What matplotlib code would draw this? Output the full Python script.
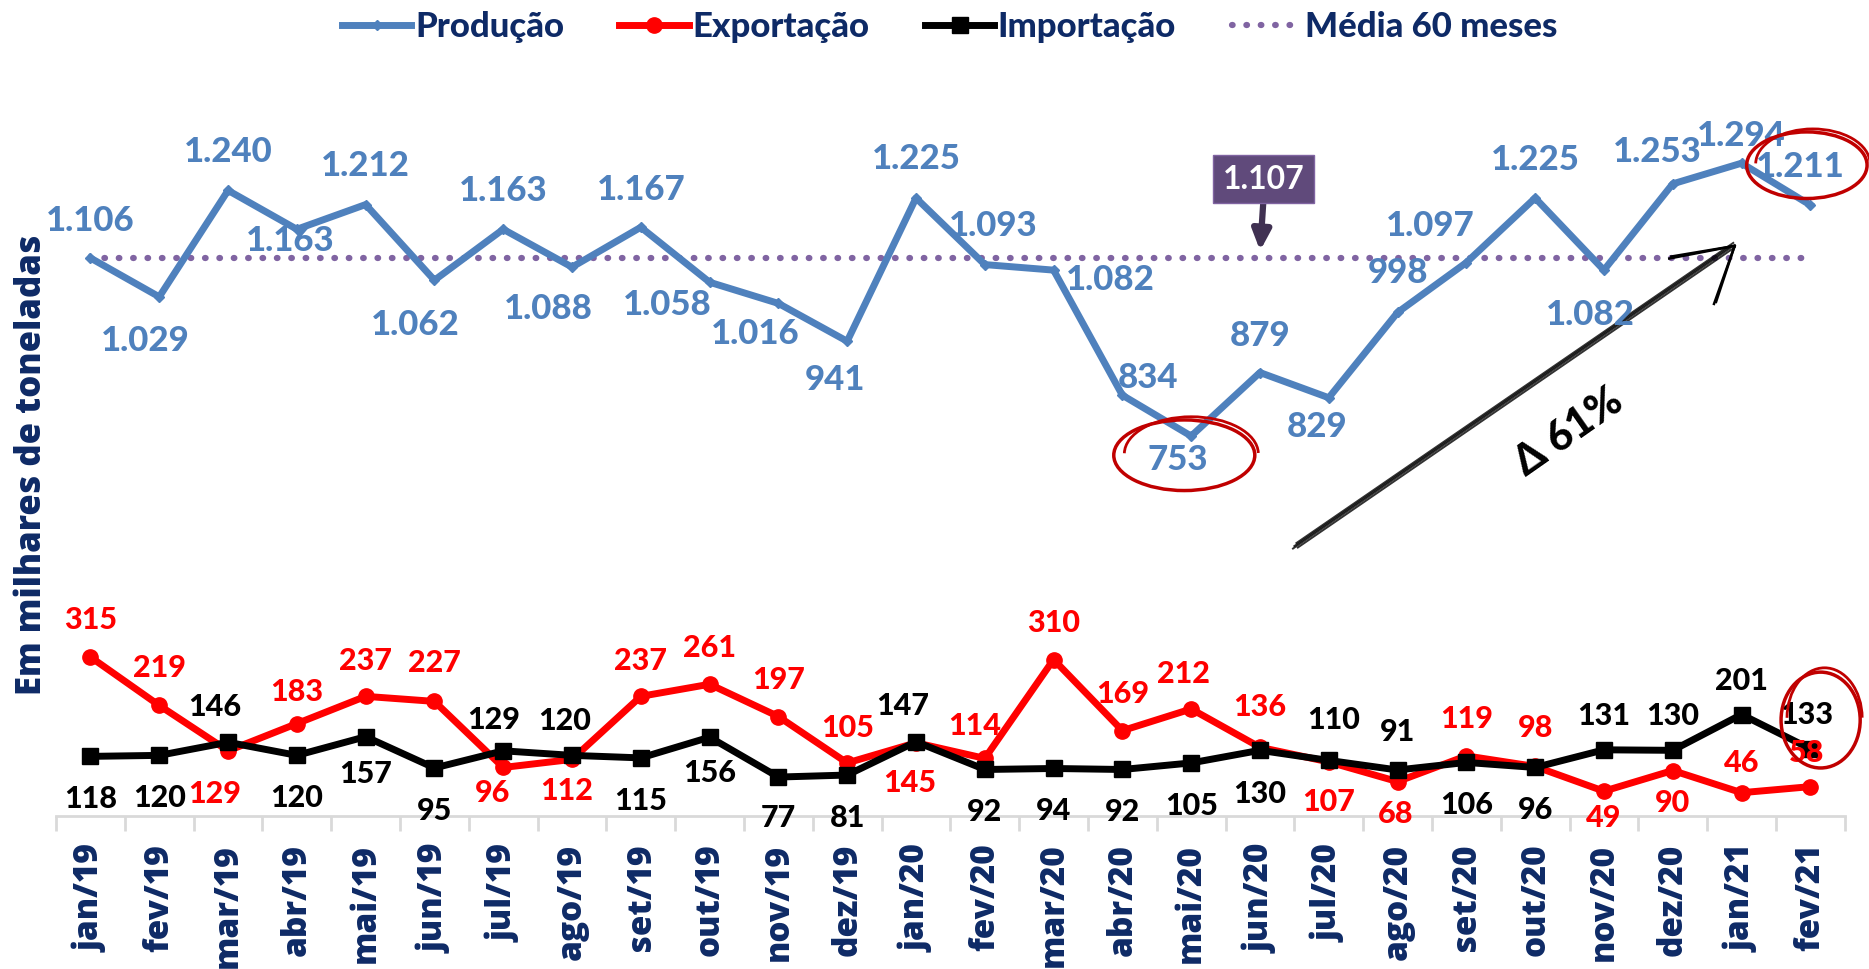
import numpy as np
import matplotlib
matplotlib.use("Agg")
import matplotlib.pyplot as plt
from matplotlib.lines import Line2D
from matplotlib.patches import Ellipse, Arc

MONTHS = ["jan/19", "fev/19", "mar/19", "abr/19", "mai/19", "jun/19", "jul/19",
          "ago/19", "set/19", "out/19", "nov/19", "dez/19", "jan/20", "fev/20",
          "mar/20", "abr/20", "mai/20", "jun/20", "jul/20", "ago/20", "set/20",
          "out/20", "nov/20", "dez/20", "jan/21", "fev/21"]
PRODUCAO = [1106, 1029, 1240, 1163, 1212, 1062, 1163, 1088, 1167, 1058, 1016, 941,
            1225, 1093, 1082, 834, 753, 879, 829, 998, 1097, 1225, 1082, 1253, 1294, 1211]
EXPORTACAO = [315, 219, 129, 183, 237, 227, 96, 112, 237, 261, 197, 105, 145, 114,
              310, 169, 212, 136, 107, 68, 119, 98, 49, 90, 46, 58]
IMPORTACAO = [118, 120, 146, 120, 157, 95, 129, 120, 115, 156, 77, 81, 147, 92, 94,
              92, 105, 130, 110, 91, 106, 96, 131, 130, 201, 133]
MEDIA_60 = 1107

# label offsets (pixels) for each point
OFF_P = [(0, 37), (-14, -44), (0, 38), (-7, -12), (0, 39), (-19, -45), (0, 38),
         (-24, -42), (0, 37), (-42, -23), (-23, -31), (-12, -39), (0, 39), (8, 39),
         (57, -10), (26, 17), (-13, -24), (0, 37), (-12, -29), (0, 39), (-36, 37),
         (0, 38), (-14, -45), (-15, 32), (0, 27), (-10, 38)]
OFF_E = [(0, 37), (0, 37), (-13, -43), (0, 32), (0, 35), (0, 38), (-11, -26),
         (-5, -32), (0, 35), (0, 36), (0, 37), (0, 35), (-6, -40), (-10, 32),
         (0, 37), (0, 37), (-8, 35), (0, 40), (0, -40), (-2, -32), (0, 37), (0, 38),
         (0, -27), (0, -32), (0, 30), (-4, 34)]
OFF_I = [(0, -43), (0, -43), (-13, 35), (0, -43), (0, -37), (0, -43), (-10, 31),
         (-7, 34), (0, -43), (0, -36), (0, -41), (0, -43), (-13, 36), (0, -43),
         (0, -43), (0, -43), (0, -43), (0, -44), (5, 40), (0, 38), (0, -43),
         (0, -43), (0, 34), (0, 34), (0, 34), (-4, 34)]

BLUE = "#4F81BD"
NAVY = "#0E2A66"
PURPLE = "#8064A2"
LBL = "Lato"
TCK = "Open Sans"


def fmt(v):
    return f"{v:,}".replace(",", ".")


fig = plt.figure(figsize=(18.69, 9.69), dpi=100)
ax = fig.add_axes([0.030, 0.158, 0.957, 0.76])
x = np.arange(len(MONTHS))

ax.plot(x, [MEDIA_60] * len(x), ls=(0, (0.1, 2.2)), lw=4.5, color=PURPLE,
        dash_capstyle="round", zorder=1)
ax.plot(x, PRODUCAO, color=BLUE, lw=5, marker="D", ms=5, zorder=3)
ax.plot(x, EXPORTACAO, color="#FF0000", lw=5, marker="o", ms=11, zorder=3)
ax.plot(x, IMPORTACAO, color="black", lw=5, marker="s", ms=12, zorder=4)

for vals, offs, col, fs in [(PRODUCAO, OFF_P, BLUE, 25),
                            (EXPORTACAO, OFF_E, "#FF0000", 22),
                            (IMPORTACAO, OFF_I, "black", 22)]:
    for i, (v, o) in enumerate(zip(vals, offs)):
        ax.annotate(fmt(v), (i, v), xytext=o, textcoords="offset pixels",
                    ha="center", va="center", fontsize=fs, fontweight="black",
                    color=col, family=LBL, zorder=6)

ax.set_xlim(-0.5, len(x) - 0.5)
ax.set_ylim(0, 1460)
ax.set_yticks([])
for s in ["left", "right", "top"]:
    ax.spines[s].set_visible(False)
ax.spines["bottom"].set_color("#D9D9D9")
ax.spines["bottom"].set_linewidth(2)
ax.set_xticks(x)
ax.set_xticklabels(MONTHS, rotation=90, fontsize=24, fontweight=800,
                   color=NAVY, family=TCK)
ax.tick_params(axis="x", which="major", length=0, pad=20)
ax.set_xticks(np.arange(-0.5, len(x)), minor=True)
ax.tick_params(axis="x", which="minor", length=11, width=2, color="#D9D9D9")

fig.text(0.017, 0.52, "Em milhares de toneladas", rotation=90, ha="center",
         va="center", fontsize=25, fontweight=800, color=NAVY, family=TCK)

# callout for the 60-month average
ax.annotate("", xy=(17.0, MEDIA_60 + 8), xytext=(17.05, 1220),
            arrowprops=dict(arrowstyle="-|>,head_width=0.55,head_length=1.2",
                            color="#403152", lw=4.5), zorder=7)
ax.text(17.05, 1262, fmt(MEDIA_60), ha="center", va="center", fontsize=23,
        fontweight="bold", color="white", family=LBL, zorder=8,
        bbox=dict(boxstyle="square,pad=0.3", fc="#604A7B", ec="#8064A2"))

# red highlight ellipses
red = "#C00000"
for cx, cy, w, h in [(15.9, 715, 2.05, 140), (24.95, 1290, 1.75, 132),
                     (25.15, 190, 1.15, 190)]:
    ax.add_patch(Ellipse((cx, cy), w, h, fill=False, ec=red, lw=2.5,
                         clip_on=False, zorder=9))
    ax.add_patch(Arc((cx + 0.05 * w, cy + 0.02 * h), w * 0.95, h * 1.05,
                     theta1=60, theta2=130, ec=red, lw=2, clip_on=False, zorder=9))

# hand-drawn growth arrow
for dx, dy in [(0, 0), (0.03, 6), (-0.02, -5), (0.05, -3)]:
    ax.plot([17.5 + dx, 23.85 + dx], [535 + dy, 1130 + dy], color="black",
            lw=1.4, alpha=0.8, zorder=5)
for dx, dy in [(0, 0), (0.03, 4)]:
    ax.plot([22.95 + dx, 23.9], [1105 + dy, 1130], color="black", lw=1.8, zorder=5)
    ax.plot([23.9, 23.6 + dx], [1130, 1015 + dy], color="black", lw=1.8, zorder=5)
ax.text(21.5, 760, "Δ 61%", rotation=35, ha="center", va="center", fontsize=30,
        fontweight="black", color="black", family=LBL)

handles = [Line2D([], [], color=BLUE, lw=5, marker="D", ms=5),
           Line2D([], [], color="#FF0000", lw=5, marker="o", ms=11),
           Line2D([], [], color="black", lw=5, marker="s", ms=12),
           Line2D([], [], color=PURPLE, lw=4.5, ls=(0, (0.1, 2.2)),
                  dash_capstyle="round")]
fig.legend(handles, ["Produção", "Exportação", "Importação", "Média 60 meses"],
           loc="center", bbox_to_anchor=(0.508, 0.972), ncol=4, frameon=False,
           handlelength=2.0, handletextpad=0.1, columnspacing=1.6,
           prop=dict(family=LBL, weight="black", size=25), labelcolor=NAVY)

fig.savefig("out.png", dpi=100)
